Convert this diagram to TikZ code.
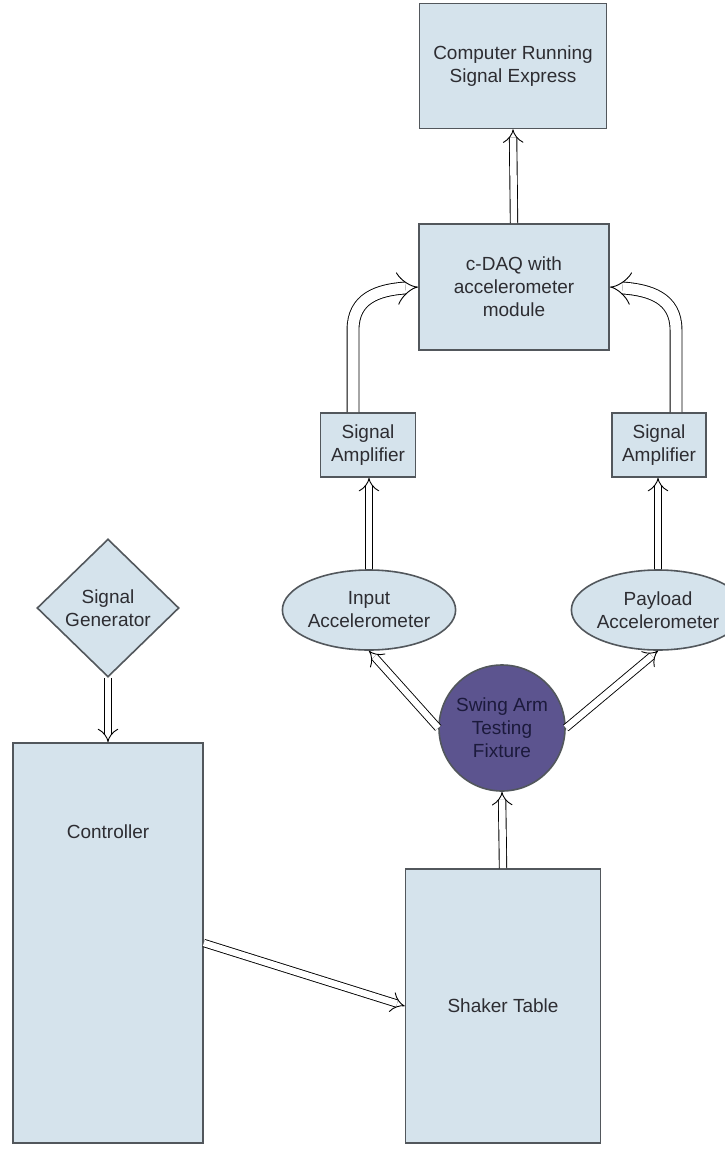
\documentclass[tikz,border=0pt]{standalone}
\usepackage{fontspec}
\setmainfont{Liberation Sans}
\usetikzlibrary{arrows.meta,shapes.geometric,calc}
\definecolor{boxfill}{RGB}{213,227,236}
\definecolor{boxline}{RGB}{82,87,92}
\definecolor{purp}{RGB}{92,84,143}
\definecolor{txt}{RGB}{45,45,50}
\definecolor{purptxt}{RGB}{28,26,60}
\tikzset{
  base/.style={draw=boxline, line width=1.6pt, fill=boxfill, text=txt, align=center, inner sep=0pt,
    font=\fontsize{19}{23}\selectfont},
  box/.style={base, rectangle},
  ell/.style={base, ellipse},
  dia/.style={base, diamond},
  circ/.style={base, circle, fill=purp, text=purptxt},
  dbl/.style={draw=black, double=white, line width=0.9pt, double distance=6.5pt, -{Implies}},
  dblw/.style={draw=black, double=white, line width=0.9pt, double distance=11pt, -{Implies}},
}
\begin{document}
\begin{tikzpicture}[x=1pt,y=-1pt]
\useasboundingbox (0,0) rectangle (724,1155);
\node[box, minimum width=187pt, minimum height=125pt] (comp) at (513,66) {Computer Running\\Signal Express};
\node[box, minimum width=190pt, minimum height=126pt] (daq) at (514,287) {c-DAQ with\\accelerometer\\module};
\node[box, minimum width=95pt, minimum height=64pt] (ampL) at (368,445) {Signal\\Amplifier};
\node[box, minimum width=94pt, minimum height=64pt] (ampR) at (659,445) {Signal\\Amplifier};
\node[ell, minimum width=144pt, minimum height=80pt] (inacc) at (369,610) {Input\\Accelerometer};
\node[ell, minimum width=142pt, minimum height=80pt] (payacc) at (658,610) {Payload\\Accelerometer};
\node[circ, minimum size=126pt] (swing) at (502,728) {Swing Arm\\Testing\\Fixture};
\node[dia, minimum width=142pt, minimum height=138pt] (sig) at (108,608) {Signal\\Generator};
\node[box, minimum width=190pt, minimum height=400pt] (ctrl) at (108,943) {};
\node[font=\fontsize{19}{23}\selectfont, text=txt] (ctrltxt) at (108,832) {Controller};
\node[box, minimum width=195pt, minimum height=274pt] (shaker) at (503,1006) {Shaker Table};

\draw[dbl] (daq.north) -- (comp.south);
\draw[dblw] ($(ampL.north)+(-15,0)$) -- (353,330) .. controls (353,298) and (378,290) .. (daq.west);
\draw[dblw] ($(ampR.north)+(17,0)$) -- (676,330) .. controls (676,298) and (650,290) .. (daq.east);
\draw[dbl] (inacc.north) -- (inacc.north |- ampL.south);
\draw[dbl] (payacc.north) -- (payacc.north |- ampR.south);
\draw[dbl] (swing.west) -- (inacc.south);
\draw[dbl] (swing.east) -- (payacc.south);
\draw[dbl] (shaker.north) -- (swing.south);
\draw[dbl] (sig.south) -- (ctrl.north);
\draw[dbl] (ctrl.east) -- (shaker.west);
\end{tikzpicture}
\end{document}
